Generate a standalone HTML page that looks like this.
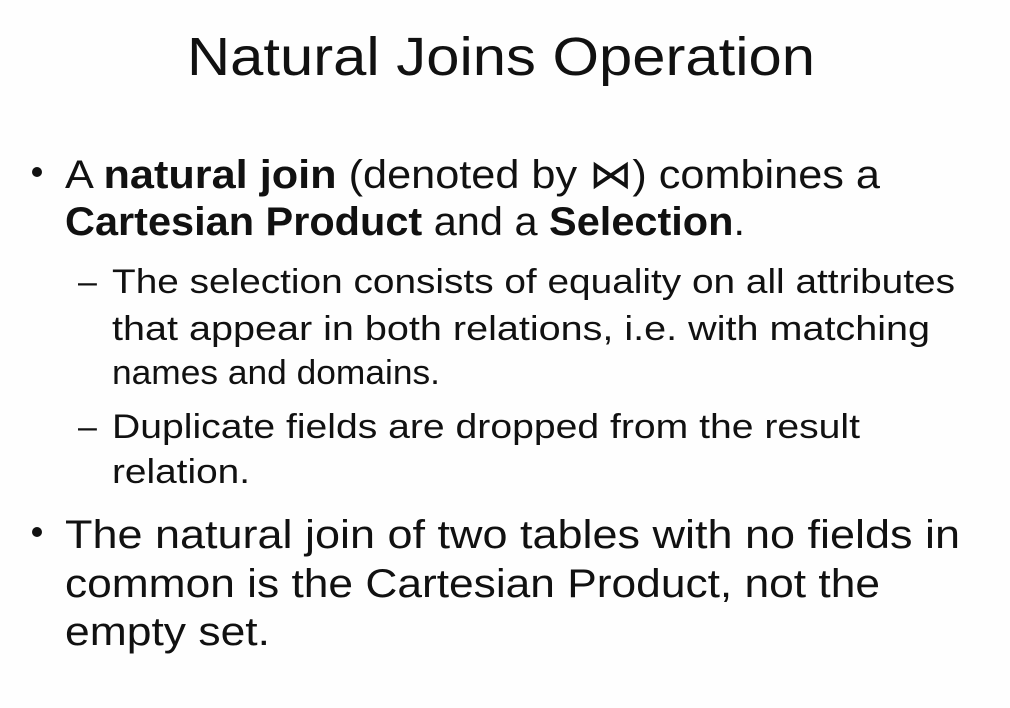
<!DOCTYPE html>
<html>
<head>
<meta charset="utf-8">
<style>
  html,body{margin:0;padding:0;background:#fff;}
  svg{display:block;}
  text{font-family:"Liberation Sans","DejaVu Sans",sans-serif;fill:#111;}
</style>
</head>
<body>
<svg width="1010" height="708" viewBox="0 0 1010 708">
  <rect x="0" y="0" width="1010" height="708" fill="#fefefe"/>
  <text x="187" y="75" font-size="54" textLength="628" lengthAdjust="spacingAndGlyphs">Natural Joins Operation</text>

  <circle cx="37" cy="172" r="5" fill="#111"/>
  <text x="65" y="188" font-size="40" textLength="815" lengthAdjust="spacingAndGlyphs">A <tspan font-weight="bold">natural join</tspan> (denoted by ⋈) combines a</text>
  <text x="65" y="235" font-size="40" textLength="680" lengthAdjust="spacingAndGlyphs"><tspan font-weight="bold">Cartesian Product</tspan> and a <tspan font-weight="bold">Selection</tspan>.</text>

  <text x="78" y="293" font-size="34">–</text>
  <text x="112" y="293" font-size="34" textLength="843" lengthAdjust="spacingAndGlyphs">The selection consists of equality on all attributes</text>
  <text x="112" y="340" font-size="34" textLength="818" lengthAdjust="spacingAndGlyphs">that appear in both relations, i.e. with matching</text>
  <text x="112" y="384" font-size="34" textLength="328" lengthAdjust="spacingAndGlyphs">names and domains.</text>

  <text x="78" y="438" font-size="34">–</text>
  <text x="112" y="438" font-size="34" textLength="748" lengthAdjust="spacingAndGlyphs">Duplicate fields are dropped from the result</text>
  <text x="112" y="483" font-size="34" textLength="138" lengthAdjust="spacingAndGlyphs">relation.</text>

  <circle cx="37" cy="532" r="5" fill="#111"/>
  <text x="65" y="548" font-size="40" textLength="895" lengthAdjust="spacingAndGlyphs">The natural join of two tables with no fields in</text>
  <text x="65" y="597" font-size="40" textLength="815" lengthAdjust="spacingAndGlyphs">common is the Cartesian Product, not the</text>
  <text x="65" y="645" font-size="40" textLength="205" lengthAdjust="spacingAndGlyphs">empty set.</text>
</svg>
</body>
</html>
